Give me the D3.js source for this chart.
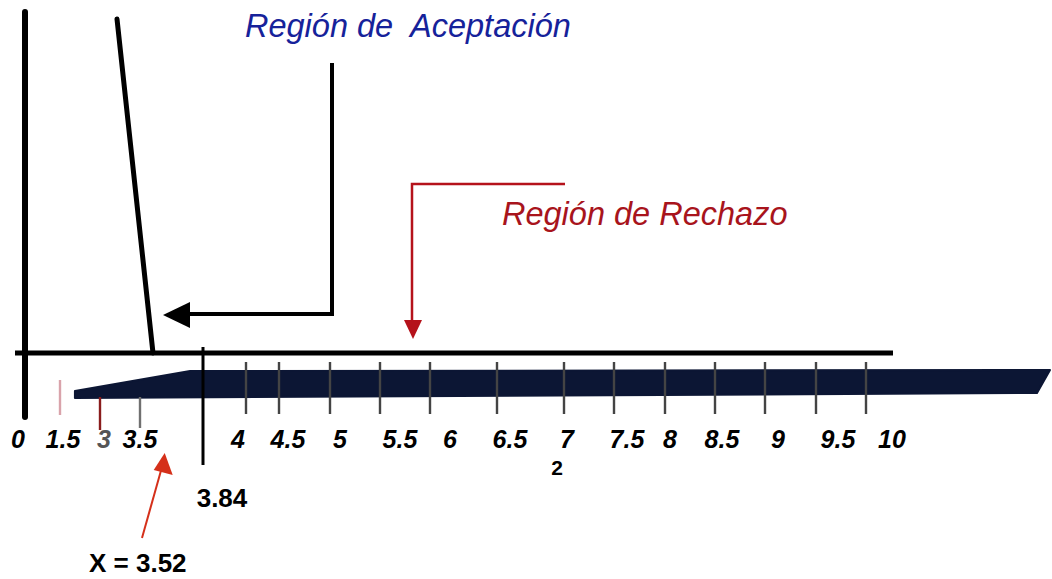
<!DOCTYPE html>
<html>
<head>
<meta charset="utf-8">
<script src="https://cdn.jsdelivr.net/npm/d3@7"></script>
<style>
  html, body { margin: 0; padding: 0; background: #ffffff; }
  svg { display: block; }
  text { font-family: "Liberation Sans", Arial, sans-serif; white-space: pre; }
</style>
</head>
<body>
<svg id="chart" width="1052" height="579"></svg>
<script>
// ---- data ----
const tickValues = [1.5, 3, 3.5, 4, 4.5, 5, 5.5, 6, 6.5, 7, 7.5, 8, 8.5, 9, 9.5, 10];
const tickLabels = ["1.5", "3", "3.5", "4", "4.5", "5", "5.5", "6", "6.5", "7", "7.5", "8", "8.5", "9", "9.5", "10"];
const originLabel = "0";
const criticalValue = 3.84;
const criticalLabel = "3.84";
const statValue = 3.52;
const statLabel = "X = 3.52";
const degreesLabel = "2";
const acceptText = "Región de  Aceptación";
const rejectText = "Región de Rechazo";
const barRange = [2.06, 3.77, 11.84]; // start, end of ramp, end of bar

// ---- layout (hand-drawn, non-uniform axis) ----
const W = 1052, H = 579;
const axisDomain = [0, 1.5, 3, 3.5, 3.84, 4, 4.5, 5, 5.5, 6, 6.5, 7, 7.5, 8, 8.5, 9, 9.5, 10];
const axisPx     = [25, 60, 100, 140, 203, 246, 279, 330, 380, 430, 497, 564, 614, 665, 715, 765, 816, 866];
const labelPx    = [63, 104, 140, 238, 288, 340, 400, 450, 510, 567, 627, 670, 722, 778, 838, 892];

const x = d3.scaleLinear().domain(axisDomain).range(axisPx);
const labelX = d3.scaleOrdinal().domain(tickLabels).range(labelPx);

const svg = d3.select("#chart");

// base horizontal line & vertical axis
const axisY = 353;
svg.append("line").attr("x1", 15).attr("x2", 893).attr("y1", axisY).attr("y2", axisY)
  .attr("stroke", "#000").attr("stroke-width", 5);
svg.append("line").attr("x1", x(0)).attr("x2", x(0)).attr("y1", 12).attr("y2", 417)
  .attr("stroke", "#000").attr("stroke-width", 6).attr("stroke-linecap", "round");

// slanted curve line
svg.append("line").attr("x1", 117).attr("y1", 19).attr("x2", 153).attr("y2", axisY)
  .attr("stroke", "#000").attr("stroke-width", 5).attr("stroke-linecap", "round");

// dark bar
const barTop = 371, barBot = 397, rampStartTop = 391;
const barPts = [
  [x(barRange[0]), rampStartTop],
  [x(barRange[1]), barTop],
  [x(barRange[2]), barTop - 1],
  [x(barRange[2]) - 13, barBot - 4],
  [x(barRange[0]), barBot + 1]
];
svg.append("path")
  .attr("d", d3.line().curve(d3.curveLinearClosed)(barPts))
  .attr("fill", "#0c1634").attr("stroke", "#0c1634").attr("stroke-width", 2)
  .attr("stroke-linejoin", "round");

// ticks
const tickStyle = (v) => {
  if (v === 1.5) return { y1: 380, y2: 415, c: "#d9a3ab" };
  if (v === 3) return { y1: 397, y2: 430, c: "#8a1c1c" };
  if (v === 3.5) return { y1: 397, y2: 428, c: "#707070" };
  return { y1: 362, y2: 414, c: "#444" };
};
svg.append("g").selectAll("line").data(tickValues).join("line")
  .attr("x1", d => x(d)).attr("x2", d => x(d))
  .attr("y1", d => tickStyle(d).y1).attr("y2", d => tickStyle(d).y2)
  .attr("stroke", d => tickStyle(d).c).attr("stroke-width", 2.4);

// tick labels
svg.append("g").selectAll("text").data(tickLabels).join("text")
  .attr("x", d => labelX(d)).attr("y", 448)
  .attr("text-anchor", "middle")
  .attr("font-size", 25).attr("font-style", "italic").attr("font-weight", "bold")
  .attr("fill", d => d === "3" ? "#555" : "#000")
  .text(d => d);
svg.append("text").attr("x", 18).attr("y", 448).attr("text-anchor", "middle")
  .attr("font-size", 25).attr("font-style", "italic").attr("font-weight", "bold")
  .text(originLabel);

// degrees of freedom label under 7
svg.append("text").attr("x", x(7) - 7).attr("y", 475).attr("text-anchor", "middle")
  .attr("font-size", 21).attr("font-weight", "bold").text(degreesLabel);

// critical value line & label
svg.append("line").attr("x1", x(criticalValue)).attr("x2", x(criticalValue))
  .attr("y1", 347).attr("y2", 465).attr("stroke", "#000").attr("stroke-width", 3);
svg.append("text").attr("x", x(criticalValue) + 19).attr("y", 507).attr("text-anchor", "middle")
  .attr("font-size", 26).attr("font-weight", "bold").text(criticalLabel);

// statistic arrow & label
const arrowTip = [x(statValue) + 21, 453];
svg.append("line").attr("x1", 142).attr("y1", 538).attr("x2", arrowTip[0] - 3).attr("y2", 468)
  .attr("stroke", "#d5301a").attr("stroke-width", 2);
svg.append("path")
  .attr("d", d3.line().curve(d3.curveLinearClosed)([arrowTip, [arrowTip[0] - 11, 470], [arrowTip[0] + 8, 475]]))
  .attr("fill", "#d5301a");
svg.append("text").attr("x", 89).attr("y", 572)
  .attr("font-size", 26).attr("font-weight", "bold").text(statLabel);

// acceptance region annotation (blue text, black bracket arrow)
svg.append("text").attr("x", 245).attr("y", 37)
  .attr("font-size", 32.5).attr("font-style", "italic").attr("fill", "#16229a").text(acceptText);
svg.append("path").attr("d", "M332,63 L332,314 L186,314")
  .attr("fill", "none").attr("stroke", "#000").attr("stroke-width", 4);
svg.append("path").attr("d", d3.line().curve(d3.curveLinearClosed)([[163, 315], [190, 302], [190, 328]]))
  .attr("fill", "#000");

// rejection region annotation (red)
svg.append("text").attr("x", 502).attr("y", 225)
  .attr("font-size", 32.5).attr("font-style", "italic").attr("fill", "#a8141c").text(rejectText);
svg.append("path").attr("d", "M565,184 L412,184 L412,322")
  .attr("fill", "none").attr("stroke", "#b5121b").attr("stroke-width", 2.5);
svg.append("path").attr("d", d3.line().curve(d3.curveLinearClosed)([[413, 339], [404, 320], [422, 320]]))
  .attr("fill", "#b5121b");
</script>
</body>
</html>
